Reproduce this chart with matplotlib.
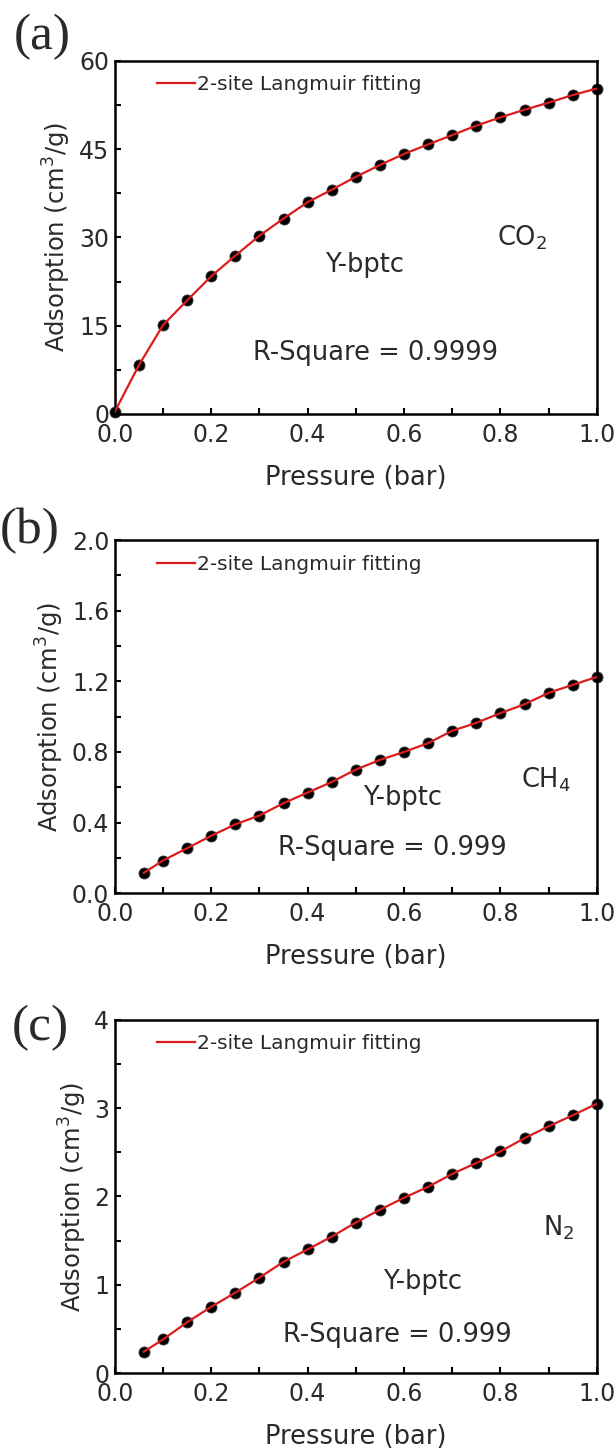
import numpy as np
import matplotlib.pyplot as plt
from matplotlib.ticker import MultipleLocator

plt.rcParams['font.family'] = ['DejaVu Sans']

# CO2 isotherm
p_co2 = [0.0, 0.05, 0.1, 0.15, 0.2, 0.25, 0.3, 0.35, 0.4, 0.45, 0.5,
         0.55, 0.6, 0.65, 0.7, 0.75, 0.8, 0.85, 0.9, 0.95, 1.0]
q_co2 = [0.4, 8.3, 15.1, 19.3, 23.4, 26.9, 30.3, 33.2, 36.0, 38.1, 40.3,
         42.3, 44.2, 45.8, 47.4, 49.0, 50.4, 51.7, 52.9, 54.2, 55.3]

# CH4 isotherm
p_ch4 = [0.06, 0.1, 0.15, 0.2, 0.25, 0.3, 0.35, 0.4, 0.45, 0.5,
         0.55, 0.6, 0.65, 0.7, 0.75, 0.8, 0.85, 0.9, 0.95, 1.0]
q_ch4 = [0.115, 0.185, 0.255, 0.325, 0.39, 0.44, 0.51, 0.57, 0.63, 0.70,
         0.755, 0.80, 0.85, 0.92, 0.965, 1.02, 1.07, 1.135, 1.18, 1.225]

# N2 isotherm
p_n2 = [0.06, 0.1, 0.15, 0.2, 0.25, 0.3, 0.35, 0.4, 0.45, 0.5,
        0.55, 0.6, 0.65, 0.7, 0.75, 0.8, 0.85, 0.9, 0.95, 1.0]
q_n2 = [0.24, 0.38, 0.575, 0.75, 0.91, 1.08, 1.26, 1.40, 1.545, 1.705,
        1.85, 1.985, 2.11, 2.255, 2.38, 2.51, 2.66, 2.795, 2.92, 3.05]

panels = [
    dict(tag='(a)', tag_xy=(-0.150, 1.068), p=p_co2, q=q_co2, ylim=(0, 60),
         major=15, minor=7.5, yfmt='%d', gas='CO$_2$', gas_xy=(0.845, 0.50),
         name_xy=(0.518, 0.422), r2='R-Square = 0.9999', r2_xy=(0.54, 0.173)),
    dict(tag='(b)', tag_xy=(-0.176, 1.026), p=p_ch4, q=q_ch4, ylim=(0, 2.0),
         major=0.4, minor=0.2, yfmt='%.1f', gas='CH$_4$', gas_xy=(0.894, 0.32),
         name_xy=(0.597, 0.27), r2='R-Square = 0.999', r2_xy=(0.575, 0.128)),
    dict(tag='(c)', tag_xy=(-0.154, 0.977), p=p_n2, q=q_n2, ylim=(0, 4),
         major=1, minor=0.5, yfmt='%d', gas='N$_2$', gas_xy=(0.92, 0.41),
         name_xy=(0.638, 0.257), r2='R-Square = 0.999', r2_xy=(0.587, 0.107)),
]

fig = plt.figure(figsize=(6.14, 14.5), dpi=100)
bottoms = [0.7145, 0.384, 0.0531]
txt = '#2a2a2a'

for pan, b in zip(panels, bottoms):
    ax = fig.add_axes([0.187, b, 0.785, 0.2435])
    ax.plot(pan['p'], pan['q'], 'o', color='black', ms=8, mec='#444444',
            mew=0.6, zorder=2, clip_on=False)
    ax.plot(pan['p'], pan['q'], '-', color='#dc1c1c', lw=1.6, zorder=3,
            label='2-site Langmuir fitting')
    ax.set_xlim(0, 1.0)
    ax.set_ylim(*pan['ylim'])
    ax.xaxis.set_major_locator(MultipleLocator(0.2))
    ax.xaxis.set_minor_locator(MultipleLocator(0.1))
    ax.yaxis.set_major_locator(MultipleLocator(pan['major']))
    ax.yaxis.set_minor_locator(MultipleLocator(pan['minor']))
    ax.yaxis.set_major_formatter(plt.FormatStrFormatter(pan['yfmt']))
    ax.xaxis.set_major_formatter(plt.FormatStrFormatter('%.1f'))
    ax.tick_params(which='both', direction='in', length=4, width=1.5,
                   labelsize=17, labelcolor=txt)
    ax.tick_params(axis='x', pad=6.5)
    ax.tick_params(axis='y', pad=4)
    for s in ax.spines.values():
        s.set_linewidth(1.8)
    ax.set_xlabel('Pressure (bar)', fontsize=18.5, color=txt, labelpad=13)
    ax.set_ylabel('Adsorption (cm$^3$/g)', fontsize=17.5, color=txt, labelpad=4)
    leg = ax.legend(loc='center left', bbox_to_anchor=(0.087, 0.932), frameon=False,
                    fontsize=14.5, handlelength=1.9, handletextpad=0.1,
                    borderaxespad=0.0, borderpad=0.0)
    for t in leg.get_texts():
        t.set_color(txt)
    for key, s in [('gas_xy', pan['gas']), ('name_xy', 'Y-bptc'), ('r2_xy', pan['r2'])]:
        ax.text(*pan[key], s, transform=ax.transAxes, fontsize=18.5,
                color=txt, ha='center', va='center')
    ax.text(*pan['tag_xy'], pan['tag'], transform=ax.transAxes, fontsize=37,
            family='Liberation Serif', color=txt, ha='center', va='center')

fig.savefig('out.png', dpi=100)
